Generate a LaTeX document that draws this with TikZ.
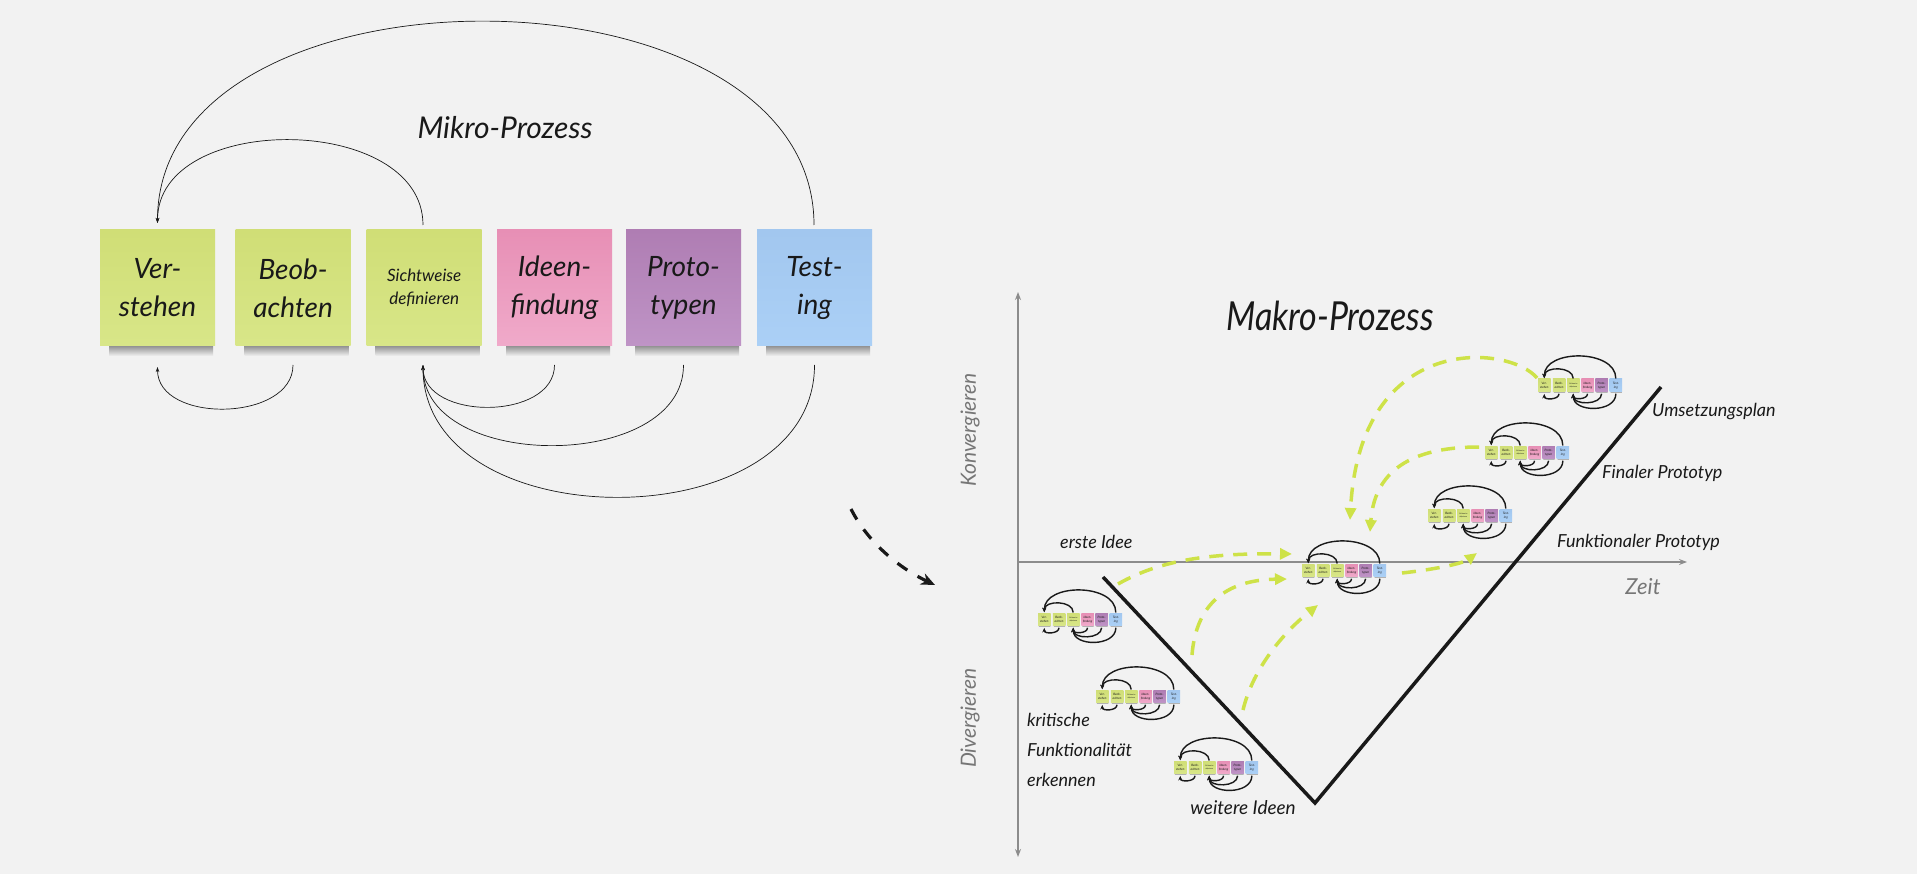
\documentclass[tikz,border=0pt]{standalone}
\usepackage{fontspec}
\usepackage{graphicx}
\setmainfont{Lato}
\usetikzlibrary{arrows.meta}
\definecolor{bgc}{RGB}{242,242,242}
\definecolor{ngreenT}{RGB}{208,222,118}
\definecolor{ngreenB}{RGB}{216,230,136}
\definecolor{npinkT}{RGB}{231,143,181}
\definecolor{npinkB}{RGB}{240,170,202}
\definecolor{npurpT}{RGB}{175,125,179}
\definecolor{npurpB}{RGB}{191,148,198}
\definecolor{nblueT}{RGB}{162,199,239}
\definecolor{nblueB}{RGB}{171,208,246}
\definecolor{limeg}{RGB}{206,226,72}
\definecolor{axisgray}{RGB}{140,140,140}
\definecolor{labgray}{RGB}{118,118,118}
\definecolor{ink}{RGB}{25,25,25}
\newcommand{\handfont}[1]{\fontsize{#1}{#1}\selectfont\itshape}
\tikzset{
  note/.style={rectangle, minimum width=115, minimum height=116, inner sep=0pt,
    align=center, text=ink, font=\fontsize{28}{38}\selectfont\itshape},
  gnote/.style={note, top color=ngreenT, bottom color=ngreenB},
  pnote/.style={note, top color=npinkT, bottom color=npinkB},
  vnote/.style={note, top color=npurpT, bottom color=npurpB},
  bnote/.style={note, top color=nblueT, bottom color=nblueB},
  noteshadow/.style={top color=black!50, bottom color=bgc, draw=none},
  marc/.style={draw=ink, line width=0.7pt, -{Stealth[length=5pt,width=3.5pt]}},
  hlabel/.style={text=ink, inner sep=0pt, font=\fontsize{18}{30}\selectfont\itshape},
  glabel/.style={text=labgray, inner sep=0pt, font=\fontsize{21}{21}\selectfont\itshape},
  axisline/.style={draw=axisgray, line width=1.6pt},
  garrow/.style={draw=limeg, line width=3.5pt, dash pattern=on 14pt off 10pt,
    -{Triangle[length=12pt,width=11pt]}},
  minipic/.style={scale=0.109, transform shape,
    marc/.append style={line width=1.4pt, -{Stealth[length=4.5pt,width=4pt]}}},
  micro/.pic={
    \foreach \xx in {0,135.6,266.7,397,526,657}{
      \shade[noteshadow] (\xx+9,-114) rectangle (\xx+113,-126);
    }
    \node[gnote] (-a) at (57.5,-58) {Ver-\\stehen};
    \node[gnote] (-b) at (193.1,-58) {Beob-\\achten};
    \node[gnote, font=\fontsize{17}{23}\selectfont\itshape] (-c) at (324.2,-58) {Sichtweise\\definieren};
    \node[pnote] (-d) at (454.5,-58) {Ideen-\\findung};
    \node[vnote] (-e) at (583.5,-58) {Proto-\\typen};
    \node[bnote] (-f) at (714.5,-58) {Test-\\ing};
    \coordinate (-aT) at (57.5,7);
    \coordinate (-cT) at (323,5);
    \coordinate (-fT) at (714,5);
    \coordinate (-aB) at (57.5,-137);
    \coordinate (-bB) at (193,-135);
    \coordinate (-cB) at (323,-135);
    \coordinate (-dB) at (454.5,-135);
    \coordinate (-eB) at (583.5,-135);
    \coordinate (-fB) at (714.5,-135);
    \draw[marc] (-fT) .. controls +(0,270) and +(0,270) .. (-aT);
    \draw[marc] (-cT) .. controls +(0,112) and +(0,112) .. (-aT);
    \draw[marc] (-bB) .. controls +(0,-57) and +(0,-57) .. (-aB);
    \draw[marc] (-dB) .. controls +(0,-56) and +(0,-56) .. (-cB);
    \draw[marc] (-eB) .. controls +(0,-107) and +(0,-107) .. (-cB);
    \draw[marc] (-fB) .. controls +(0,-176) and +(0,-176) .. (-cB);
  }
}
\begin{document}
\begin{tikzpicture}[x=1pt,y=1pt]
\fill[bgc] (0,0) rectangle (1917,-874);
\useasboundingbox (0,0) rectangle (1917,-874);

% ---------- Mikro-Prozess ----------
\pic (M) at (100,-230) {micro};
\node[text=ink, inner sep=0pt, font=\handfont{30}] (mikro) at (505,-128) {Mikro-Prozess};

% black dashed transition arrow
\coordinate (bk1) at (851,-509);
\coordinate (bk2) at (935,-585);
\draw[ink, line width=3.2pt, dash pattern=on 12pt off 12pt,
  -{Stealth[length=14pt,width=12pt]}] (bk1) .. controls (866,-539) and (895,-566) .. (bk2);

% ---------- Makro-Prozess ----------
\node[text=ink, inner sep=0pt, font=\handfont{40}] (makro) at (1330,-316) {\scalebox{0.85}[1]{Makro-Prozess}};

% axes
\coordinate (vtop) at (1018,-292);
\coordinate (vbot) at (1018,-857);
\coordinate (orig) at (1018,-562);
\coordinate (hend) at (1687,-562);
\draw[axisline, {Stealth[length=8pt,width=6pt]}-{Stealth[length=8pt,width=6pt]}] (vbot) -- (vtop);
\draw[axisline, -{Stealth[length=8pt,width=6pt]}] (orig) -- (hend);
\node[glabel, rotate=90] (konv) at (970,-430) {Konvergieren};
\node[glabel, rotate=90] (div) at (970,-718) {Divergieren};
\node[glabel, font=\handfont{22}] (zeit) at (1643,-587) {Zeit};

% V line
\coordinate (v1) at (1103,-577);
\coordinate (v2) at (1315,-803);
\coordinate (v3) at (1661,-387);
\draw[ink, line width=3.5pt] (v1) -- (v2) -- (v3);

% mini processes
\pic[minipic] (g1) at (1038,-613) {micro};
\pic[minipic] (g2) at (1096,-690) {micro};
\pic[minipic] (g3) at (1174,-761) {micro};
\pic[minipic] (g4) at (1302,-564) {micro};
\pic[minipic] (g5) at (1428,-509) {micro};
\pic[minipic] (g6) at (1485,-446) {micro};
\pic[minipic] (g7) at (1538,-379) {micro};

% green dashed arrows
\coordinate (ga1) at (1118,-584); \coordinate (ga2) at (1292,-554);
\coordinate (gb1) at (1192,-655); \coordinate (gb2) at (1287,-579);
\coordinate (gc1) at (1243,-710); \coordinate (gc2) at (1318,-605);
\coordinate (gd1) at (1402,-573); \coordinate (gd2) at (1477,-553);
\coordinate (ge1) at (1479,-447); \coordinate (ge2) at (1370,-532);
\coordinate (gf1) at (1537,-378); \coordinate (gf2) at (1350,-520);
\draw[garrow] (ga1) .. controls (1160,-560) and (1210,-553) .. (ga2);
\draw[garrow] (gb1) .. controls (1196,-605) and (1225,-580) .. (gb2);
\draw[garrow] (gc1) .. controls (1255,-660) and (1295,-623) .. (gc2);
\draw[garrow] (gd1) .. controls (1430,-570) and (1462,-564) .. (gd2);
\draw[garrow] (ge1) .. controls (1420,-447) and (1375,-465) .. (ge2);
\draw[garrow] (gf1) .. controls (1510,-345) and (1360,-330) .. (gf2);

% labels
\node[hlabel, anchor=west] (erste) at (1060,-542) {erste Idee};
\node[hlabel, anchor=west, align=left] (krit) at (1027,-750) {kritische\\Funktionalität\\erkennen};
\node[hlabel, font=\fontsize{19}{30}\selectfont\itshape] (weitere) at (1243,-808) {weitere Ideen};
\node[hlabel, anchor=west] (funk) at (1557,-542) {Funktionaler Prototyp};
\node[hlabel, anchor=west] (final) at (1602,-473) {Finaler Prototyp};
\node[hlabel, anchor=west] (ums) at (1652,-412) {Umsetzungsplan};
\end{tikzpicture}
\end{document}
